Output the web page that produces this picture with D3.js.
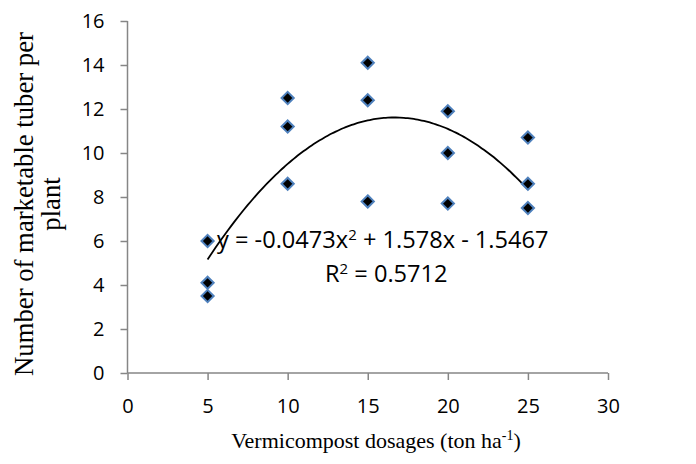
<!DOCTYPE html>
<html>
<head>
<meta charset="utf-8">
<script src="https://cdn.jsdelivr.net/npm/d3@7"></script>
<style>
  body { margin: 0; padding: 0; background: #fff; }
  svg text { fill: #000; }
  .axis-title { font-family: 'Liberation Serif', 'Times New Roman', serif; font-size: 22px; }
  .eq { font-family: 'Open Sans', sans-serif; font-size: 23.6px; }
</style>
</head>
<body>
<script>
// dosage (ton/ha) and marketable tubers per plant
var dosage = [5, 5, 5, 10, 10, 10, 15, 15, 15, 20, 20, 20, 25, 25, 25];
var tubers = [6.0, 4.1, 3.5, 12.5, 11.2, 8.6, 14.1, 12.4, 7.8, 11.9, 10.0, 7.7, 10.7, 8.6, 7.5];
var xTicks = [0, 5, 10, 15, 20, 25, 30];
var yTicks = [0, 2, 4, 6, 8, 10, 12, 14, 16];
// polynomial trendline coefficients as printed on the chart (a x^2 + b x + c)
var trendCoef = [-0.0473, 1.578, -1.5467];
var trendRange = [5, 25];

var W = 696, H = 464;
var svg = d3.select("body").append("svg").attr("width", W).attr("height", H);

var x = d3.scaleLinear().domain([0, 30]).range([127.5, 608]);
var y = d3.scaleLinear().domain([0, 16]).range([373, 21]);

// axes
var xAxis = svg.append("g").attr("transform", "translate(0," + y(0) + ")")
  .call(d3.axisBottom(x).tickValues(xTicks).tickSize(7).tickPadding(19));
var yAxis = svg.append("g").attr("transform", "translate(" + x(0) + ",0)")
  .call(d3.axisLeft(y).tickValues(yTicks).tickSize(7).tickPadding(16));
[xAxis, yAxis].forEach(function (g) {
  g.select(".domain").attr("stroke", "#868686").attr("stroke-width", 1.5);
  g.selectAll(".tick line").attr("stroke", "#868686").attr("stroke-width", 1.5);
  g.selectAll(".tick text").attr("fill", "#000")
    .style("font-family", "'Open Sans', sans-serif").style("font-size", "20px");
});
xAxis.selectAll(".domain").attr("d", "M" + x(0) + ",0H" + x(30));
yAxis.selectAll(".domain").attr("d", "M0," + y(0) + "V" + y(16));

// trendline
var line = d3.line().x(function (d) { return x(d); })
  .y(function (d) { return y(trendCoef[0] * d * d + trendCoef[1] * d + trendCoef[2]); })
  .curve(d3.curveMonotoneX);
var steps = d3.range(trendRange[0], trendRange[1] + 0.001, 0.25);
svg.append("path").datum(steps).attr("d", line)
  .attr("fill", "none").attr("stroke", "#000").attr("stroke-width", 1.8);

// points
var sym = d3.symbol().type(d3.symbolDiamond2).size(95);
svg.append("g").selectAll("path").data(dosage).enter().append("path")
  .attr("d", sym)
  .attr("transform", function (d, i) { return "translate(" + x(d) + "," + y(tubers[i]) + ")"; })
  .attr("fill", "#000").attr("stroke", "#4f81bd").attr("stroke-width", 2);

// equation labels
var eq = svg.append("text").attr("class", "eq").attr("x", 217).attr("y", 248);
eq.append("tspan").text("y = -0.0473x");
eq.append("tspan").attr("dy", -8).style("font-size", "15px").text("2");
eq.append("tspan").attr("dy", 8).text(" + 1.578x - 1.5467");
var r2 = svg.append("text").attr("class", "eq").attr("x", 325).attr("y", 282);
r2.append("tspan").text("R");
r2.append("tspan").attr("dy", -8).style("font-size", "15px").text("2");
r2.append("tspan").attr("dy", 8).text(" = 0.5712");

// axis titles
var xt = svg.append("text").attr("class", "axis-title").attr("x", 376).attr("y", 448)
  .attr("text-anchor", "middle");
xt.append("tspan").text("Vermicompost dosages (ton ha");
xt.append("tspan").attr("dy", -8).style("font-size", "14px").text("-1");
xt.append("tspan").attr("dy", 8).text(")");

var yt = svg.append("text").attr("class", "axis-title")
  .attr("transform", "translate(33,204) rotate(-90)").attr("text-anchor", "middle")
  .style("font-size", "26.7px");
yt.append("tspan").attr("x", 0).attr("y", 0).text("Number of marketable tuber per");
yt.append("tspan").attr("x", 0).attr("y", 27).text("plant");
</script>
</body>
</html>
